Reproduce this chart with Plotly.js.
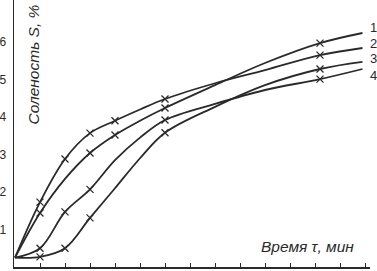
<!DOCTYPE html>
<html><head><meta charset="utf-8">
<script src="https://cdn.plot.ly/plotly-3.0.1.min.js"></script>
<style>html,body{margin:0;padding:0;background:#fff}#c{width:377px;height:271px}</style>
</head><body><div id="c"></div>
<script>
// time in tick units, salinity S, %
const tX = [0, 1, 2, 3, 4, 5, 6, 8, 10, 12.2, 13.9];
const s1 = [0.25, 1.44, 2.35, 3.04, 3.52, 3.90, 4.24, 4.85, 5.44, 5.97, 6.24];
const s2 = [0.25, 1.73, 2.88, 3.57, 3.90, 4.20, 4.48, 4.90, 5.25, 5.65, 5.84];
const s3 = [0.25, 0.27, 0.50, 1.31, 2.10, 2.90, 3.58, 4.27, 4.85, 5.28, 5.47];
const s4 = [0.25, 0.50, 1.47, 2.07, 2.85, 3.45, 3.92, 4.35, 4.72, 5.01, 5.28];
const curveLabels = ['1', '2', '3', '4'];
// indices of measured points drawn with a marker
const mark1 = [1, 3, 4, 6, 9];
const mark2 = [1, 2, 3, 4, 6, 9];
const mark3 = [1, 2, 3, 6, 9];
const mark4 = [1, 2, 3, 6, 9];
const yTicks = [1, 2, 3, 4, 5, 6];
const xTicks = [0,1,2,3,4,5,6,7,8,9,10,11,12,13,14];

const series = [s1, s2, s3, s4];
const marks = [mark1, mark2, mark3, mark4];
const col = '#2a2a2a';
const traces = [];
series.forEach((s, i) => {
  traces.push({x: tX, y: s, mode: 'lines', line: {shape: 'spline', smoothing: 1, color: col, width: 1.8}, hoverinfo: 'skip'});
  traces.push({x: marks[i].map(k => tX[k]), y: marks[i].map(k => s[k]), mode: 'markers',
    marker: {symbol: 'x-thin-open', size: 7, color: col, line: {color: col, width: 1.3}}, hoverinfo: 'skip'});
});
const labelY = [6.4, 5.97, 5.57, 5.12];
const annotations = curveLabels.map((t, i) => ({x: 14.1, y: labelY[i], xref: 'x', yref: 'y', text: t, showarrow: false,
  xanchor: 'left', yanchor: 'middle', font: {family: 'Liberation Sans, Arial', size: 13, color: col}}));
annotations.push({x: 0.72, y: 5.4, xref: 'x', yref: 'y', text: '<i>Соленость S, %</i>', textangle: -90, showarrow: false,
  font: {family: 'Liberation Sans, Arial', size: 15.5, color: col}});
annotations.push({x: 11.68, y: 0.56, xref: 'x', yref: 'y', text: '<i>Время τ, мин</i>', showarrow: false,
  font: {family: 'Liberation Sans, Arial', size: 15.5, color: col}});
const layout = {
  width: 377, height: 271, margin: {l: 14, r: 7, t: 0, b: 4},
  paper_bgcolor: '#fff', plot_bgcolor: '#fff', showlegend: false,
  xaxis: {range: [-0.04, 14.2], showgrid: false, zeroline: false, showline: true, linecolor: col, linewidth: 1.5,
    tickmode: 'array', tickvals: xTicks, showticklabels: false, ticks: 'inside', ticklen: 4, tickcolor: col, tickwidth: 1},
  yaxis: {range: [0, 7.12], showgrid: false, zeroline: false, showline: true, linecolor: col, linewidth: 1.5,
    tickmode: 'array', tickvals: yTicks, ticks: '', ticklabelstandoff: 4,
    tickfont: {family: 'Liberation Sans, Arial', size: 12, color: col}, automargin: false},
  annotations: annotations
};
Plotly.newPlot('c', traces, layout, {staticPlot: true, displayModeBar: false});
</script></body></html>
